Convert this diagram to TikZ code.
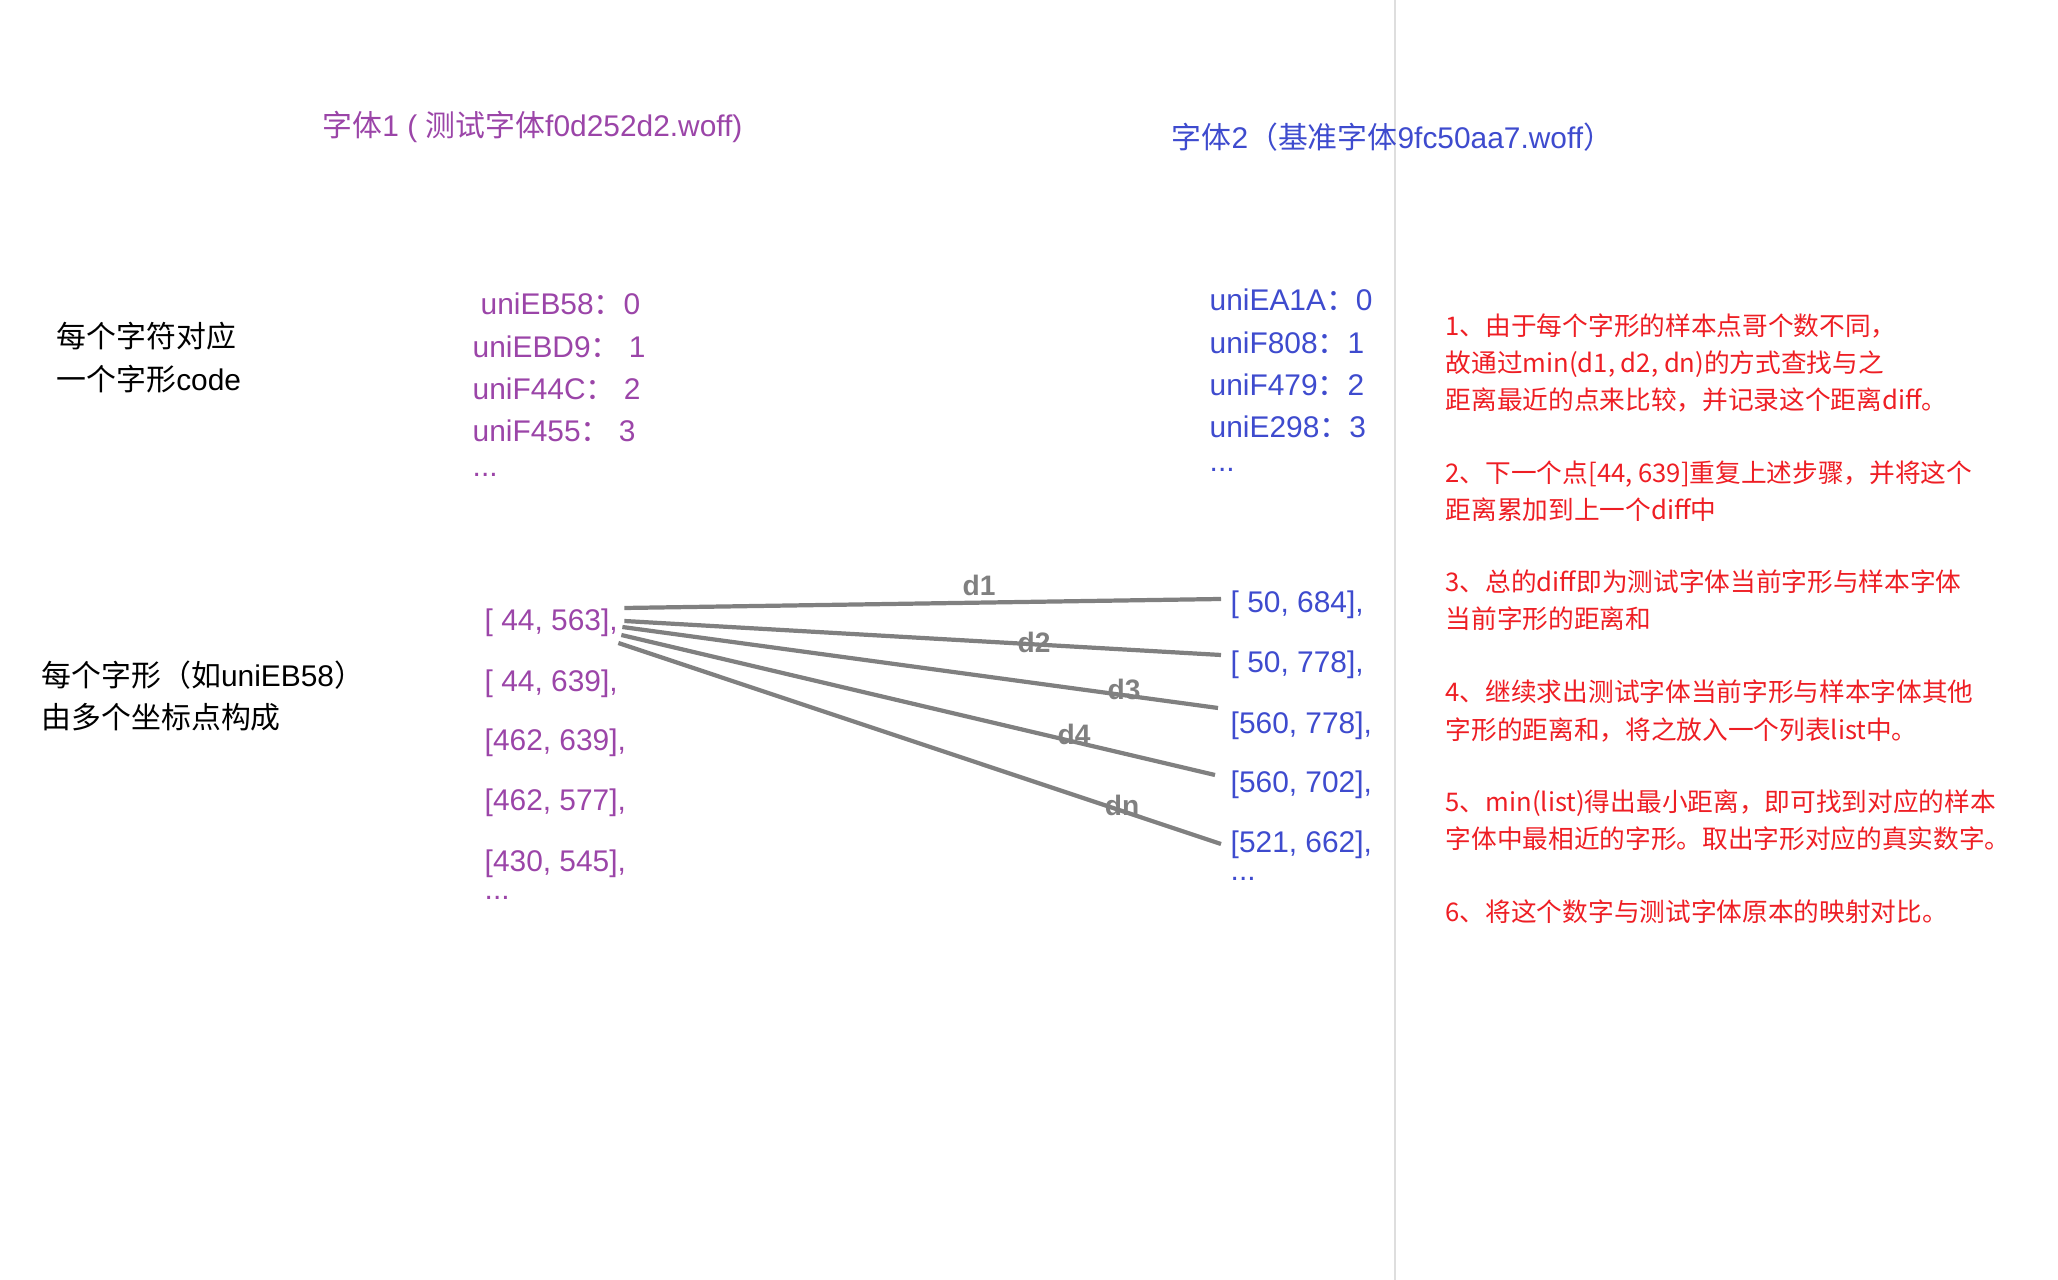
\documentclass[tikz,border=0pt]{standalone}
\usepackage{fontspec}
\setmainfont{Liberation Sans}
\newfontfamily\cjk{Noto Sans CJK SC}
\usetikzlibrary{calc}
\definecolor{fontone}{RGB}{155,69,168}
\definecolor{fonttwo}{RGB}{62,75,206}
\definecolor{notered}{RGB}{238,30,36}
\newcommand{\zh}[1]{{\cjk #1}}

\begin{document}
\begin{tikzpicture}[x=0.01cm, y=-0.01cm,
    every node/.style={inner sep=0pt, anchor=west},
    big/.style={font=\fontsize{8.5}{10}\selectfont},
    one/.style={big, text=fontone},
    two/.style={big, text=fonttwo},
    desc/.style={big, text=black},
    remark/.style={font=\cjk\fontsize{7.3}{10.6}\selectfont, text=notered, align=left},
    distline/.style={draw=gray, line width=1.2pt},
    dname/.style={anchor=center, text=gray, font=\bfseries\fontsize{8}{10}\selectfont},
    divider/.style={draw=black!13, line width=0.6pt}
]
    \useasboundingbox (0,0) rectangle (2058,1280);
    \draw[divider] (1395,0) -- (1395,1280);

    \node[one] (t1) at (322,127) {\zh{字体}1 ( \zh{测试字体}f0d252d2.woff)};
    \node[two] (t2) at (1171,137) {\zh{字体}2\zh{（基准字体}9fc50aa7.woff\zh{）}};

    \node[desc] (c1) at (56,336) {\zh{每个字符对应}};
    \node[desc] (c2) at (56,379) {\zh{一个字形}code};
    \node[desc] (g1) at (41,675) {\zh{每个字形（如}uniEB58\zh{）}};
    \node[desc] (g2) at (41,717) {\zh{由多个坐标点构成}};

    \node[one] (a1) at (480,304) {uniEB58\zh{：}0};
    \node[one] (a2) at (472,347) {uniEBD9\zh{：}\ 1};
    \node[one] (a3) at (472,389) {uniF44C\zh{：}\ 2};
    \node[one] (a4) at (472,431) {uniF455\zh{：}\ 3};
    \node[one] (a5) at (472,475) {...};

    \node[two] (b1) at (1209,300) {uniEA1A\zh{：}0};
    \node[two] (b2) at (1209,343) {uniF808\zh{：}1};
    \node[two] (b3) at (1209,385) {uniF479\zh{：}2};
    \node[two] (b4) at (1209,427) {uniE298\zh{：}3};
    \node[two] (b5) at (1209,470) {...};

    \node[one] (p1) at (484,623) {[ 44, 563],};
    \node[one] (p2) at (484,684) {[ 44, 639],};
    \node[one] (p3) at (484,743) {[462, 639],};
    \node[one] (p4) at (484,803) {[462, 577],};
    \node[one] (p5) at (484,864) {[430, 545],};
    \node[one] (p6) at (484,898) {...};

    \node[two] (q1) at (1230,605) {[ 50, 684],};
    \node[two] (q2) at (1230,665) {[ 50, 778],};
    \node[two] (q3) at (1230,726) {[560, 778],};
    \node[two] (q4) at (1230,785) {[560, 702],};
    \node[two] (q5) at (1230,845) {[521, 662],};
    \node[two] (q6) at (1230,879) {...};

    \draw[distline] ($(p1.east)+(6,-15)$) -- ($(q1.west)+(-9,-6)$);
    \draw[distline] ($(p1.east)+(6,-2)$) -- ($(q2.west)+(-9,-10)$);
    \draw[distline] ($(p1.east)+(4,4)$) -- ($(q3.west)+(-12,-18)$);
    \draw[distline] ($(p1.east)+(3,12)$) -- ($(q4.west)+(-15,-10)$);
    \draw[distline] ($(p1.east)+(0,20)$) -- ($(q5.west)+(-9,-1)$);

    \node[dname] (d1) at (979,585) {d1};
    \node[dname] (d2) at (1034,642) {d2};
    \node[dname] (d3) at (1124,689) {d3};
    \node[dname] (d4) at (1074,734) {d4};
    \node[dname] (dn) at (1122,805) {dn};

    \node[remark] (r1) at (1445,363) {1、由于每个字形的样本点哥个数不同，\\故通过min(d1, d2, dn)的方式查找与之\\距离最近的点来比较，并记录这个距离diff。};
    \node[remark] (r2) at (1445,491) {2、下一个点[44, 639]重复上述步骤，并将这个\\距离累加到上一个diff中};
    \node[remark] (r3) at (1445,600) {3、总的diff即为测试字体当前字形与样本字体\\当前字形的距离和};
    \node[remark] (r4) at (1445,711) {4、继续求出测试字体当前字形与样本字体其他\\字形的距离和，将之放入一个列表list中。};
    \node[remark] (r5) at (1445,820) {5、min(list)得出最小距离，即可找到对应的样本\\字体中最相近的字形。取出字形对应的真实数字。};
    \node[remark] (r6) at (1445,912) {6、将这个数字与测试字体原本的映射对比。};
\end{tikzpicture}
\end{document}
